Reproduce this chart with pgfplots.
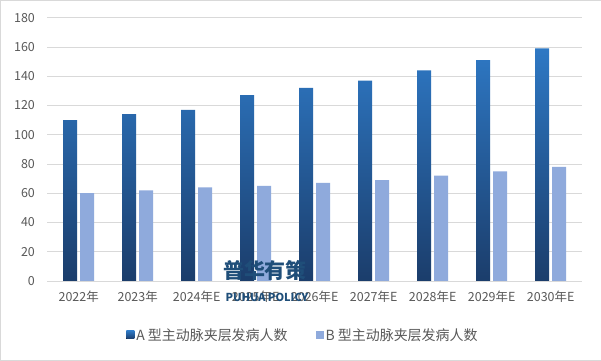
\documentclass[border=0pt]{standalone}
\usepackage{pgfplots}
\pgfplotsset{compat=1.18}
\usepackage{fontspec}
\setmainfont{Noto Sans CJK SC}
\definecolor{atop}{HTML}{2E78C4}
\definecolor{abot}{HTML}{1B3D6B}
\definecolor{bcol}{HTML}{8FAADC}
\definecolor{tickc}{HTML}{595959}
\definecolor{gridc}{HTML}{D9D9D9}
\definecolor{wm}{HTML}{1F4E79}
\begin{document}
\begin{tikzpicture}[x=1bp,y=1bp]
\draw[draw=gridc, fill=white] (0.5,0.5) rectangle (600.5,360.5);
\begin{axis}[
  at={(47.7bp,80bp)}, anchor=south west,
  scale only axis, width=534bp, height=263bp,
  ymin=0, ymax=180, ytick={0,20,...,180},
  xmin=-0.53, xmax=8.53,
  xtick={0,...,8},
  xticklabels={2022年,2023年,2024年E,2025年E,2026年E,2027年E,2028年E,2029年E,2030年E},
  ybar=3bp, bar width=14bp,
  axis line style={draw=none},
  axis x line*=bottom,
  x axis line style={draw=gridc},
  hide y axis=false,
  ymajorgrids, grid style={gridc, line width=0.8pt},
  major tick length=0pt,
  tick label style={font=\fontsize{12.5}{14}\selectfont, text=tickc},
  /pgf/number format/assume math mode=true,
  yticklabel style={xshift=-9bp},
  xticklabel style={yshift=-6bp},
  legend columns=2,
  legend style={at={(0.478,-0.205)}, anchor=center, draw=none, fill=none,
    font=\fontsize{14}{16}\selectfont, text=tickc,
    /tikz/every even column/.append style={column sep=26bp}},
  legend image code/.code={\fill[#1] (0bp,-4bp) rectangle (8bp,4bp);},
]
\addplot[draw=none, top color=atop, bottom color=abot] coordinates {(0,110) (1,114) (2,117) (3,127) (4,132) (5,137) (6,144) (7,151) (8,159)};
\addplot[draw=none, fill=bcol] coordinates {(0,60) (1,62) (2,64) (3,65) (4,67) (5,69) (6,72) (7,75) (8,78)};
\legend{A 型主动脉夹层发病人数, B 型主动脉夹层发病人数}
\end{axis}
\node[text=wm, font=\fontsize{21}{23}\selectfont\bfseries, anchor=center] at (265bp,90bp) {普华有策};
\node[text=wm, font=\fontsize{11}{12}\selectfont\bfseries, anchor=center] at (267bp,64bp) {PUHUA POLICY};
\end{tikzpicture}
\end{document}
